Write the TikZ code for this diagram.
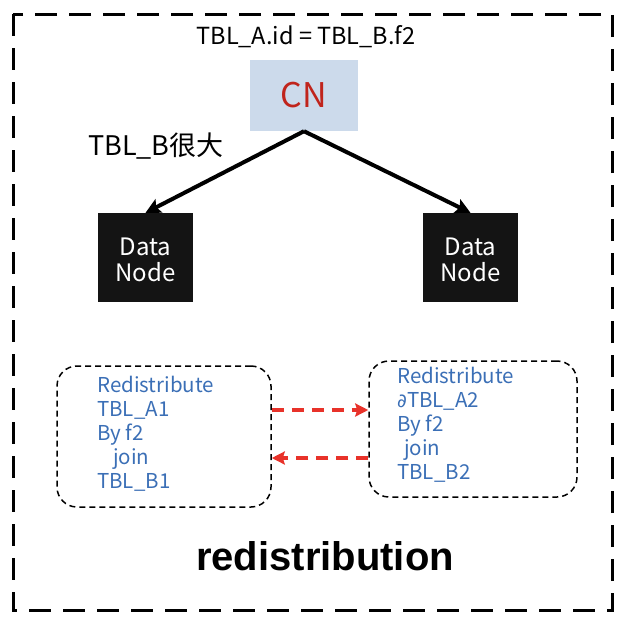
\documentclass[tikz,border=0pt]{standalone}
\usepackage{fontspec}
\setmainfont{Noto Sans CJK SC}
\newfontfamily\boldsans{Liberation Sans}
\newfontfamily\symf{DejaVu Sans}
\usetikzlibrary{arrows.meta}
\definecolor{cnfill}{HTML}{CCDAEB}
\definecolor{cnred}{HTML}{C0241C}
\definecolor{txtblue}{HTML}{3B6FB6}
\definecolor{arrred}{HTML}{E8322A}
\definecolor{dnblack}{HTML}{141414}
\begin{document}
\begin{tikzpicture}[x=1pt,y=-1pt,
  frame/.style={draw=black,line width=3pt,dash pattern=on 22pt off 12pt},
  cnbox/.style={fill=cnfill,minimum width=108pt,minimum height=71pt,inner sep=0pt,text=cnred,font=\fontsize{34}{36}\selectfont},
  dnbox/.style={fill=dnblack,minimum width=95pt,minimum height=89pt,inner sep=0pt,text=white,font=\fontsize{24}{26}\selectfont},
  rbox/.style={draw=black,line width=1.5pt,dash pattern=on 6pt off 4pt,rounded corners=20pt,inner sep=0pt},
  btxt/.style={text=txtblue,align=left,anchor=north west,inner sep=0pt,font=\fontsize{20.5}{24}\selectfont},
  blk/.style={line width=4pt,-{Stealth[length=15pt,width=15pt,inset=3pt]}},
  redarr/.style={draw=arrred,line width=3.2pt,dash pattern=on 12pt off 8pt,-{Stealth[length=13pt,width=13pt,inset=2pt]}},
  lbl/.style={inner sep=0pt,font=\fontsize{23.5}{26}\selectfont}
]
\useasboundingbox (0,0) rectangle (639,622);
\draw[frame] (13,14) rectangle (612,610);

\node[lbl] (cond) at (306,37) {TBL\_A.id = TBL\_B.f2};
\node[cnbox] (cn) at (304,95.5) {CN};
\node[lbl,anchor=west,font=\fontsize{27}{30}\selectfont] (big) at (88,146) {TBL\_B很大};

\node[dnbox] (dn1) at (145.5,257.5) {\raisebox{-12pt}[0pt][0pt]{\begin{tabular}{@{}c@{}}Data\\Node\end{tabular}}};
\node[dnbox] (dn2) at (470.5,257.5) {\raisebox{-12pt}[0pt][0pt]{\begin{tabular}{@{}c@{}}Data\\Node\end{tabular}}};

\draw[blk] (cn.south) -- (dn1.north);
\draw[blk] (cn.south) -- (dn2.north);

\node[rbox,minimum width=214pt,minimum height=141pt] (b1) at (164,436.5) {};
\node[rbox,minimum width=208pt,minimum height=136pt] (b2) at (473,429) {};

\node[btxt] (t1) at (97,376) {Redistribute\\TBL\_A1\\By f2\\\hspace*{16pt}join\\TBL\_B1};
\node[btxt] (t2) at (397,367) {Redistribute\\{\symf\fontsize{19}{24}\selectfont ∂}TBL\_A2\\By f2\\\hspace*{7pt}join\\TBL\_B2};

\coordinate (a1s) at (b1.east |- 0,410);
\coordinate (a1e) at (b2.west |- 0,410);
\coordinate (a2s) at (b2.west |- 0,458);
\coordinate (a2e) at (b1.east |- 0,458);
\draw[redarr] (a1s) -- (a1e);
\draw[redarr] (a2s) -- (a2e);

\node[inner sep=0pt,font=\boldsans\bfseries\fontsize{40}{44}\selectfont] (title) at (325,556) {redistribution};
\end{tikzpicture}
\end{document}
